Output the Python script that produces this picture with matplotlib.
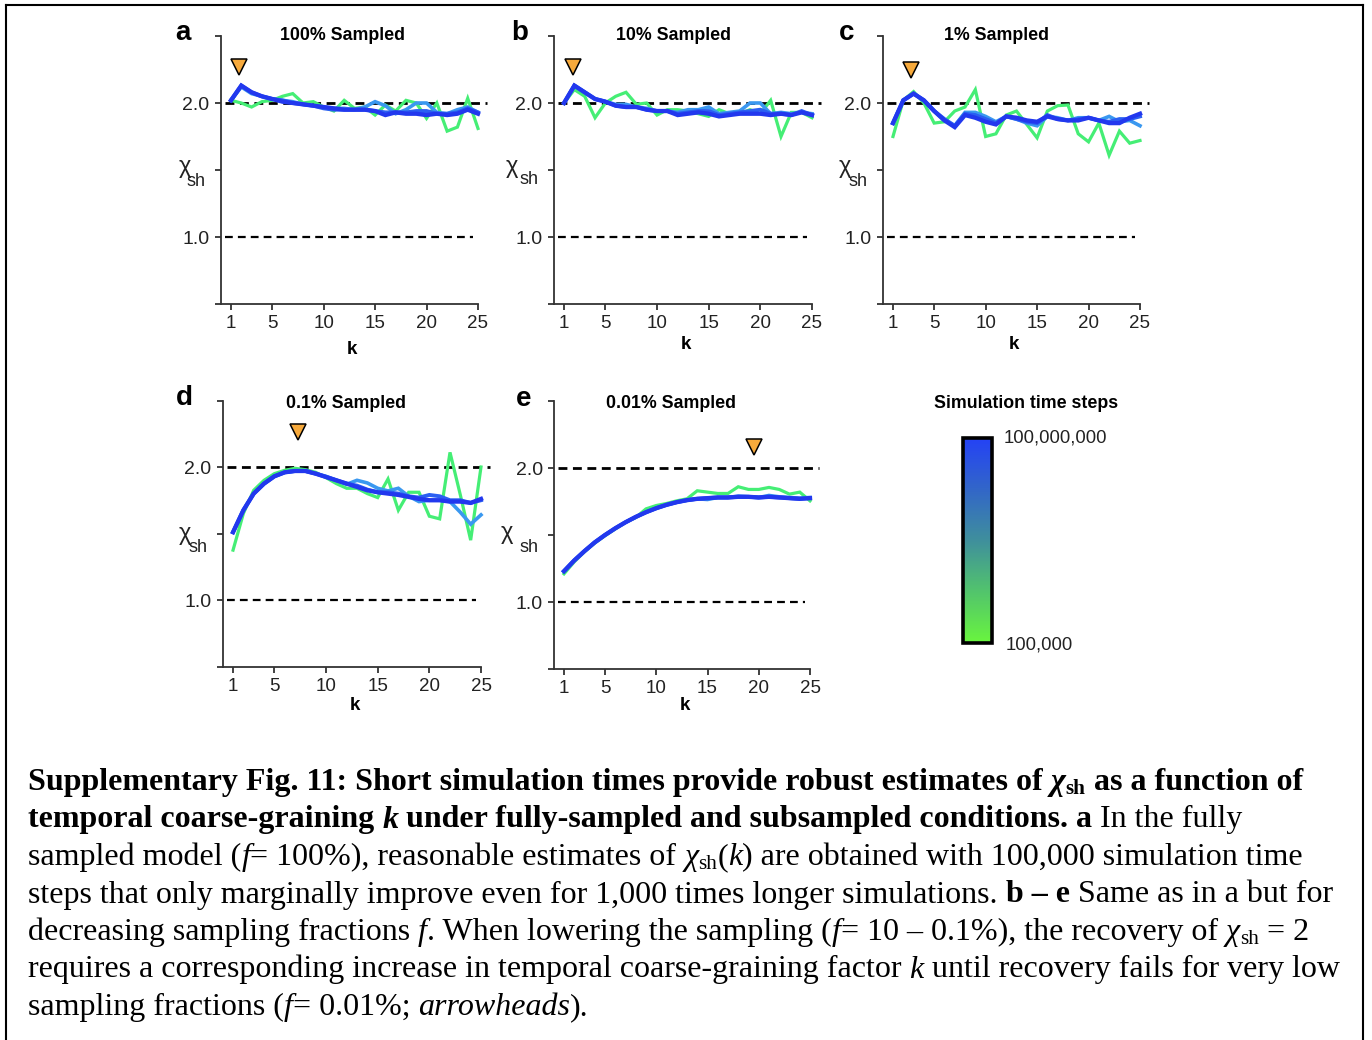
import matplotlib
matplotlib.use("Agg")
import matplotlib.pyplot as plt
import numpy as np
from matplotlib.colors import LinearSegmentedColormap
from matplotlib.font_manager import FontProperties
from matplotlib.lines import Line2D
import matplotlib.colorbar as mcolorbar

W, H = 1372, 1040

k = list(range(1, 26))
tick_k = [1, 5, 10, 15, 20, 25]

# panel a - 100% sampled
green_a = [2.02, 2.00, 1.97, 2.01, 2.02, 2.05, 2.07, 2.00, 2.01, 1.97, 1.94, 2.02, 1.96,
           1.97, 1.91, 1.985, 1.94, 2.02, 2.00, 1.885, 2.00, 1.79, 1.82, 2.035, 1.81]
lblue_a = [2.02, 2.12, 2.07, 2.05, 2.03, 2.02, 2.01, 1.99, 1.98, 1.97, 1.96, 1.96, 1.95,
           1.97, 2.01, 1.98, 1.92, 1.95, 2.00, 2.00, 1.93, 1.92, 1.95, 1.97, 1.93]
mblue_a = [2.02, 2.13, 2.08, 2.05, 2.03, 2.02, 2.00, 1.99, 1.98, 1.96, 1.95, 1.95, 1.95,
           1.95, 1.94, 1.93, 1.93, 1.93, 1.94, 1.94, 1.92, 1.92, 1.93, 1.96, 1.93]
dblue_a = [2.02, 2.13, 2.08, 2.05, 2.03, 2.01, 2.00, 1.99, 1.98, 1.97, 1.96, 1.95, 1.95,
           1.95, 1.94, 1.91, 1.93, 1.92, 1.92, 1.91, 1.92, 1.91, 1.92, 1.95, 1.92]

# panel b - 10% sampled
green_b = [2.00, 2.10, 2.05, 1.89, 2.00, 2.05, 2.08, 1.99, 2.00, 1.91, 1.95, 1.95, 1.94,
           1.92, 1.90, 1.95, 1.92, 1.92, 1.95, 1.92, 2.02, 1.75, 1.93, 1.93, 1.89]
lblue_b = [2.00, 2.13, 2.08, 2.03, 2.01, 1.99, 1.99, 1.97, 1.96, 1.94, 1.94, 1.93, 1.95,
           1.95, 1.97, 1.92, 1.93, 1.94, 2.00, 2.00, 1.92, 1.93, 1.92, 1.93, 1.92]
mblue_b = [2.00, 2.13, 2.08, 2.03, 2.01, 1.98, 1.97, 1.97, 1.95, 1.94, 1.94, 1.92, 1.93,
           1.94, 1.94, 1.91, 1.92, 1.93, 1.94, 1.95, 1.92, 1.92, 1.91, 1.94, 1.91]
dblue_b = [2.00, 2.13, 2.08, 2.03, 2.01, 1.98, 1.97, 1.97, 1.95, 1.94, 1.94, 1.91, 1.92,
           1.93, 1.92, 1.90, 1.91, 1.92, 1.92, 1.92, 1.91, 1.92, 1.91, 1.93, 1.91]

# panel c - 1% sampled
green_c = [1.75, 2.02, 2.085, 2.00, 1.85, 1.86, 1.94, 1.97, 2.10, 1.75, 1.77, 1.91, 1.94,
           1.84, 1.74, 1.94, 1.98, 1.985, 1.77, 1.71, 1.85, 1.61, 1.79, 1.70, 1.72]
lblue_c = [1.85, 2.02, 2.07, 2.02, 1.94, 1.87, 1.83, 1.93, 1.93, 1.90, 1.86, 1.90, 1.88,
           1.85, 1.83, 1.90, 1.89, 1.87, 1.89, 1.89, 1.87, 1.90, 1.86, 1.87, 1.83]
mblue_c = [1.85, 2.02, 2.07, 2.02, 1.94, 1.88, 1.83, 1.92, 1.91, 1.88, 1.85, 1.90, 1.88,
           1.86, 1.85, 1.91, 1.88, 1.87, 1.88, 1.89, 1.87, 1.86, 1.88, 1.88, 1.90]
dblue_c = [1.85, 2.02, 2.07, 2.02, 1.94, 1.87, 1.82, 1.91, 1.89, 1.86, 1.84, 1.90, 1.89,
           1.87, 1.86, 1.90, 1.88, 1.87, 1.87, 1.89, 1.87, 1.85, 1.85, 1.89, 1.92]

# panel d - 0.1% sampled
green_d = [1.375, 1.65, 1.825, 1.90, 1.95, 1.975, 1.99, 1.98, 1.96, 1.92, 1.875, 1.84, 1.84,
           1.80, 1.77, 1.91, 1.675, 1.81, 1.81, 1.63, 1.61, 2.11, 1.79, 1.45, 2.00]
lblue_d = [1.51, 1.675, 1.80, 1.875, 1.93, 1.96, 1.97, 1.97, 1.95, 1.93, 1.90, 1.87, 1.90,
           1.88, 1.84, 1.82, 1.84, 1.78, 1.74, 1.75, 1.75, 1.74, 1.66, 1.57, 1.64]
mblue_d = [1.51, 1.675, 1.80, 1.875, 1.93, 1.96, 1.97, 1.97, 1.95, 1.925, 1.90, 1.875, 1.86,
           1.83, 1.81, 1.81, 1.80, 1.78, 1.77, 1.79, 1.78, 1.75, 1.75, 1.73, 1.75]
dblue_d = [1.51, 1.675, 1.80, 1.875, 1.93, 1.96, 1.97, 1.97, 1.95, 1.925, 1.90, 1.875, 1.85,
           1.825, 1.81, 1.80, 1.79, 1.775, 1.76, 1.75, 1.75, 1.74, 1.74, 1.73, 1.76]

# panel e - 0.01% sampled
green_e = [1.21, 1.30, 1.375, 1.44, 1.495, 1.545, 1.595, 1.63, 1.695, 1.72, 1.735, 1.755, 1.77,
           1.83, 1.82, 1.81, 1.81, 1.86, 1.84, 1.84, 1.855, 1.84, 1.805, 1.82, 1.755]
lblue_e = [1.23, 1.31, 1.38, 1.445, 1.50, 1.55, 1.595, 1.635, 1.67, 1.70, 1.725, 1.745, 1.76,
           1.77, 1.765, 1.78, 1.78, 1.79, 1.785, 1.78, 1.795, 1.785, 1.78, 1.775, 1.78]
mblue_e = [1.23, 1.31, 1.38, 1.445, 1.50, 1.55, 1.595, 1.635, 1.67, 1.70, 1.725, 1.745, 1.76,
           1.77, 1.775, 1.78, 1.78, 1.785, 1.785, 1.78, 1.785, 1.78, 1.775, 1.77, 1.775]
dblue_e = [1.23, 1.31, 1.38, 1.445, 1.50, 1.55, 1.595, 1.635, 1.67, 1.70, 1.725, 1.745, 1.76,
           1.77, 1.775, 1.78, 1.78, 1.785, 1.785, 1.78, 1.785, 1.78, 1.775, 1.77, 1.775]

letters = ["a", "b", "c", "d", "e"]
titles = ["100% Sampled", "10% Sampled", "1% Sampled", "0.1% Sampled", "0.01% Sampled"]
arrow_k = [1.78, 1.87, 2.75, 7.3, 19.5]
arrow_y = [2.27, 2.27, 2.25, 2.26, 2.16]
series = [
    [green_a, lblue_a, mblue_a, dblue_a],
    [green_b, lblue_b, mblue_b, dblue_b],
    [green_c, lblue_c, mblue_c, dblue_c],
    [green_d, lblue_d, mblue_d, dblue_d],
    [green_e, lblue_e, mblue_e, dblue_e],
]
line_colors = ["#45ee75", "#3a98f0", "#2b5ff2", "#2238ee"]
line_widths = [2.3, 2.6, 2.8, 3.1]

cbar_labels = ["100,000,000", "100,000"]

# pixel boxes: x at k=0, x at k=25, y at 2.5, y at 0.5
boxes = [
    (220.7, 478, 36, 304),
    (553.7, 812, 36, 304),
    (882.7, 1140, 36, 304),
    (222.7, 481, 400.5, 666.5),
    (553.75, 810, 401, 669),
]
chi_pos = [((185, 167), (196, 182)), ((512, 167), (529, 180)), ((845, 167), (858, 181)),
           ((185, 534), (198, 547)), ((507, 533), (529, 547))]
letter_pos = [(183, 33), (520, 33), (847, 33), (184, 398), (524, 399)]
title_pos = [(343, 36), (673, 36), (997, 36), (346, 403), (671, 403)]
klabel_y = [350, 345, 345, 706, 706]

SANS = ["Liberation Sans", "DejaVu Sans"]
TXT = "#222222"


def fx(px):
    return px / W


def fy(py):
    return 1 - py / H


fig = plt.figure(figsize=(W / 100, H / 100), dpi=100)
fig.patch.set_facecolor("white")

for i in range(5):
    x0, x25, ytop, ybot = boxes[i]
    ax = fig.add_axes([fx(x0), fy(ybot), (x25 - x0) / W, (ybot - ytop) / H])
    ax.set_xlim(0, 25)
    ax.set_ylim(0.5, 2.5)
    for s in ["top", "right"]:
        ax.spines[s].set_visible(False)
    for s in ["left", "bottom"]:
        ax.spines[s].set_color("#333333")
        ax.spines[s].set_linewidth(1.3)
    ax.set_xticks(tick_k)
    ax.set_xticklabels([str(t) for t in tick_k], family=SANS, fontsize=13.5, color=TXT)
    ax.set_yticks([0.5, 1.0, 1.5, 2.0, 2.5])
    ax.set_yticklabels(["", "1.0", "", "2.0", ""], family=SANS, fontsize=14, color=TXT)
    ax.tick_params(direction="out", length=4, width=1.3, color="#333333", pad=4)
    ax.tick_params(axis="y", pad=4)

    # reference levels
    ax.plot([0.4, 25.9], [2.0, 2.0], color="black", lw=2.0, dashes=(3.2, 2.0),
            zorder=2, clip_on=False)
    ax.plot([0.4, 24.5], [1.0, 1.0], color="black", lw=1.6, dashes=(3.5, 2.3), zorder=2)

    for vals, c, lw in zip(series[i], line_colors, line_widths):
        ax.plot(k, vals, color=c, lw=lw, solid_joinstyle="miter", zorder=3, clip_on=False)

    ax.plot([arrow_k[i]], [arrow_y[i]], marker="v", ms=12, mfc="#f7aa3c", mec="black",
            mew=1.1, zorder=5, clip_on=False)

    fig.text(fx(letter_pos[i][0]), fy(letter_pos[i][1]), letters[i], family=SANS,
             fontsize=20, weight="bold", ha="center", va="center")
    fig.text(fx(title_pos[i][0]), fy(title_pos[i][1]), titles[i], family=SANS,
             fontsize=12.8, weight="bold", ha="center", va="center")
    fig.text(fx((x0 + x25) / 2 + 3), fy(klabel_y[i]), "k", family=SANS,
             fontsize=13.5, weight="bold", ha="center", va="center")
    (cx, cy), (sx, sy) = chi_pos[i]
    fig.text(fx(cx), fy(cy), "χ", family=SANS, fontsize=17, color=TXT,
             ha="center", va="center")
    fig.text(fx(sx), fy(sy), "sh", family=SANS, fontsize=13, color=TXT,
             ha="center", va="center")

# colorbar legend
cmap = LinearSegmentedColormap.from_list(
    "sim", ["#69f53e", "#52c46c", "#3f8f9c", "#3266c8", "#2442f5"])
cax = fig.add_axes([fx(963), fy(643), 29 / W, 205 / H])
cb = mcolorbar.ColorbarBase(cax, cmap=cmap, orientation="vertical")
cb.set_ticks([])
cb.outline.set_linewidth(2.6)
cb.outline.set_edgecolor("black")
fig.text(fx(1026), fy(403), "Simulation time steps", family=SANS, fontsize=12.8,
         weight="bold", ha="center", va="center")
fig.text(fx(1004), fy(438), cbar_labels[0], family=SANS, fontsize=13.3, color=TXT,
         ha="left", va="center")
fig.text(fx(1006), fy(645), cbar_labels[1], family=SANS, fontsize=13.3, color=TXT,
         ha="left", va="center")

# caption
caption = [
    [("Supplementary Fig. 11: Short simulation times provide robust estimates of ", "b"),
     ("χ", "bi"), ("sh", "bsub"), (" as a function of", "b")],
    [("temporal coarse-graining ", "b"), ("k", "bi"),
     (" under fully-sampled and subsampled conditions. a", "b"), (" In the fully", "r")],
    [("sampled model (", "r"), ("f", "i"), ("= 100%), reasonable estimates of ", "r"),
     ("χ", "i"), ("sh", "sub"), ("(", "r"), ("k", "i"),
     (") are obtained with 100,000 simulation time", "r")],
    [("steps that only marginally improve even for 1,000 times longer simulations. ", "r"),
     ("b – e", "b"), (" Same as in a but for", "r")],
    [("decreasing sampling fractions ", "r"), ("f", "i"),
     (". When lowering the sampling (", "r"), ("f", "i"),
     ("= 10 – 0.1%), the recovery of ", "r"), ("χ", "i"), ("sh", "sub"), (" = 2", "r")],
    [("requires a corresponding increase in temporal coarse-graining factor ", "r"),
     ("k", "i"), (" until recovery fails for very low", "r")],
    [("sampling fractions (", "r"), ("f", "i"), ("= 0.01%; ", "r"), ("arrowheads", "i"),
     (").", "r")],
]
SERIF = ["Liberation Serif", "DejaVu Serif"]
cap_size = 23
styles = {
    "r": FontProperties(family=SERIF, size=cap_size),
    "b": FontProperties(family=SERIF, size=cap_size, weight="bold"),
    "i": FontProperties(family=SERIF, size=cap_size, style="italic"),
    "bi": FontProperties(family=SERIF, size=cap_size, style="italic", weight="bold"),
    "sub": FontProperties(family=SERIF, size=cap_size * 0.66),
    "bsub": FontProperties(family=SERIF, size=cap_size * 0.66, weight="bold"),
}

renderer = fig.canvas.get_renderer()


def run_width(s, fp):
    w1 = renderer.get_text_width_height_descent("|" + s + "|", fp, ismath=False)[0]
    w2 = renderer.get_text_width_height_descent("||", fp, ismath=False)[0]
    return w1 - w2


baseline0 = 790
spacing = 37.5
for li, runs in enumerate(caption):
    x = 28
    yb = baseline0 + li * spacing
    for s, st in runs:
        fp = styles[st]
        dy = 4 if st in ("sub", "bsub") else 0
        fig.text(fx(x), fy(yb + dy), s, fontproperties=fp, ha="left", va="baseline",
                 color="black")
        x += run_width(s, fp)

# outer frame
frame_kw = dict(color="black", lw=1.5, transform=fig.transFigure)
fig.add_artist(Line2D([fx(6), fx(6)], [fy(5), 0], **frame_kw))
fig.add_artist(Line2D([fx(6), fx(1363)], [fy(5), fy(5)], **frame_kw))
fig.add_artist(Line2D([fx(1363), fx(1363)], [fy(5), 0], **frame_kw))

fig.savefig("out.png", dpi=100)
